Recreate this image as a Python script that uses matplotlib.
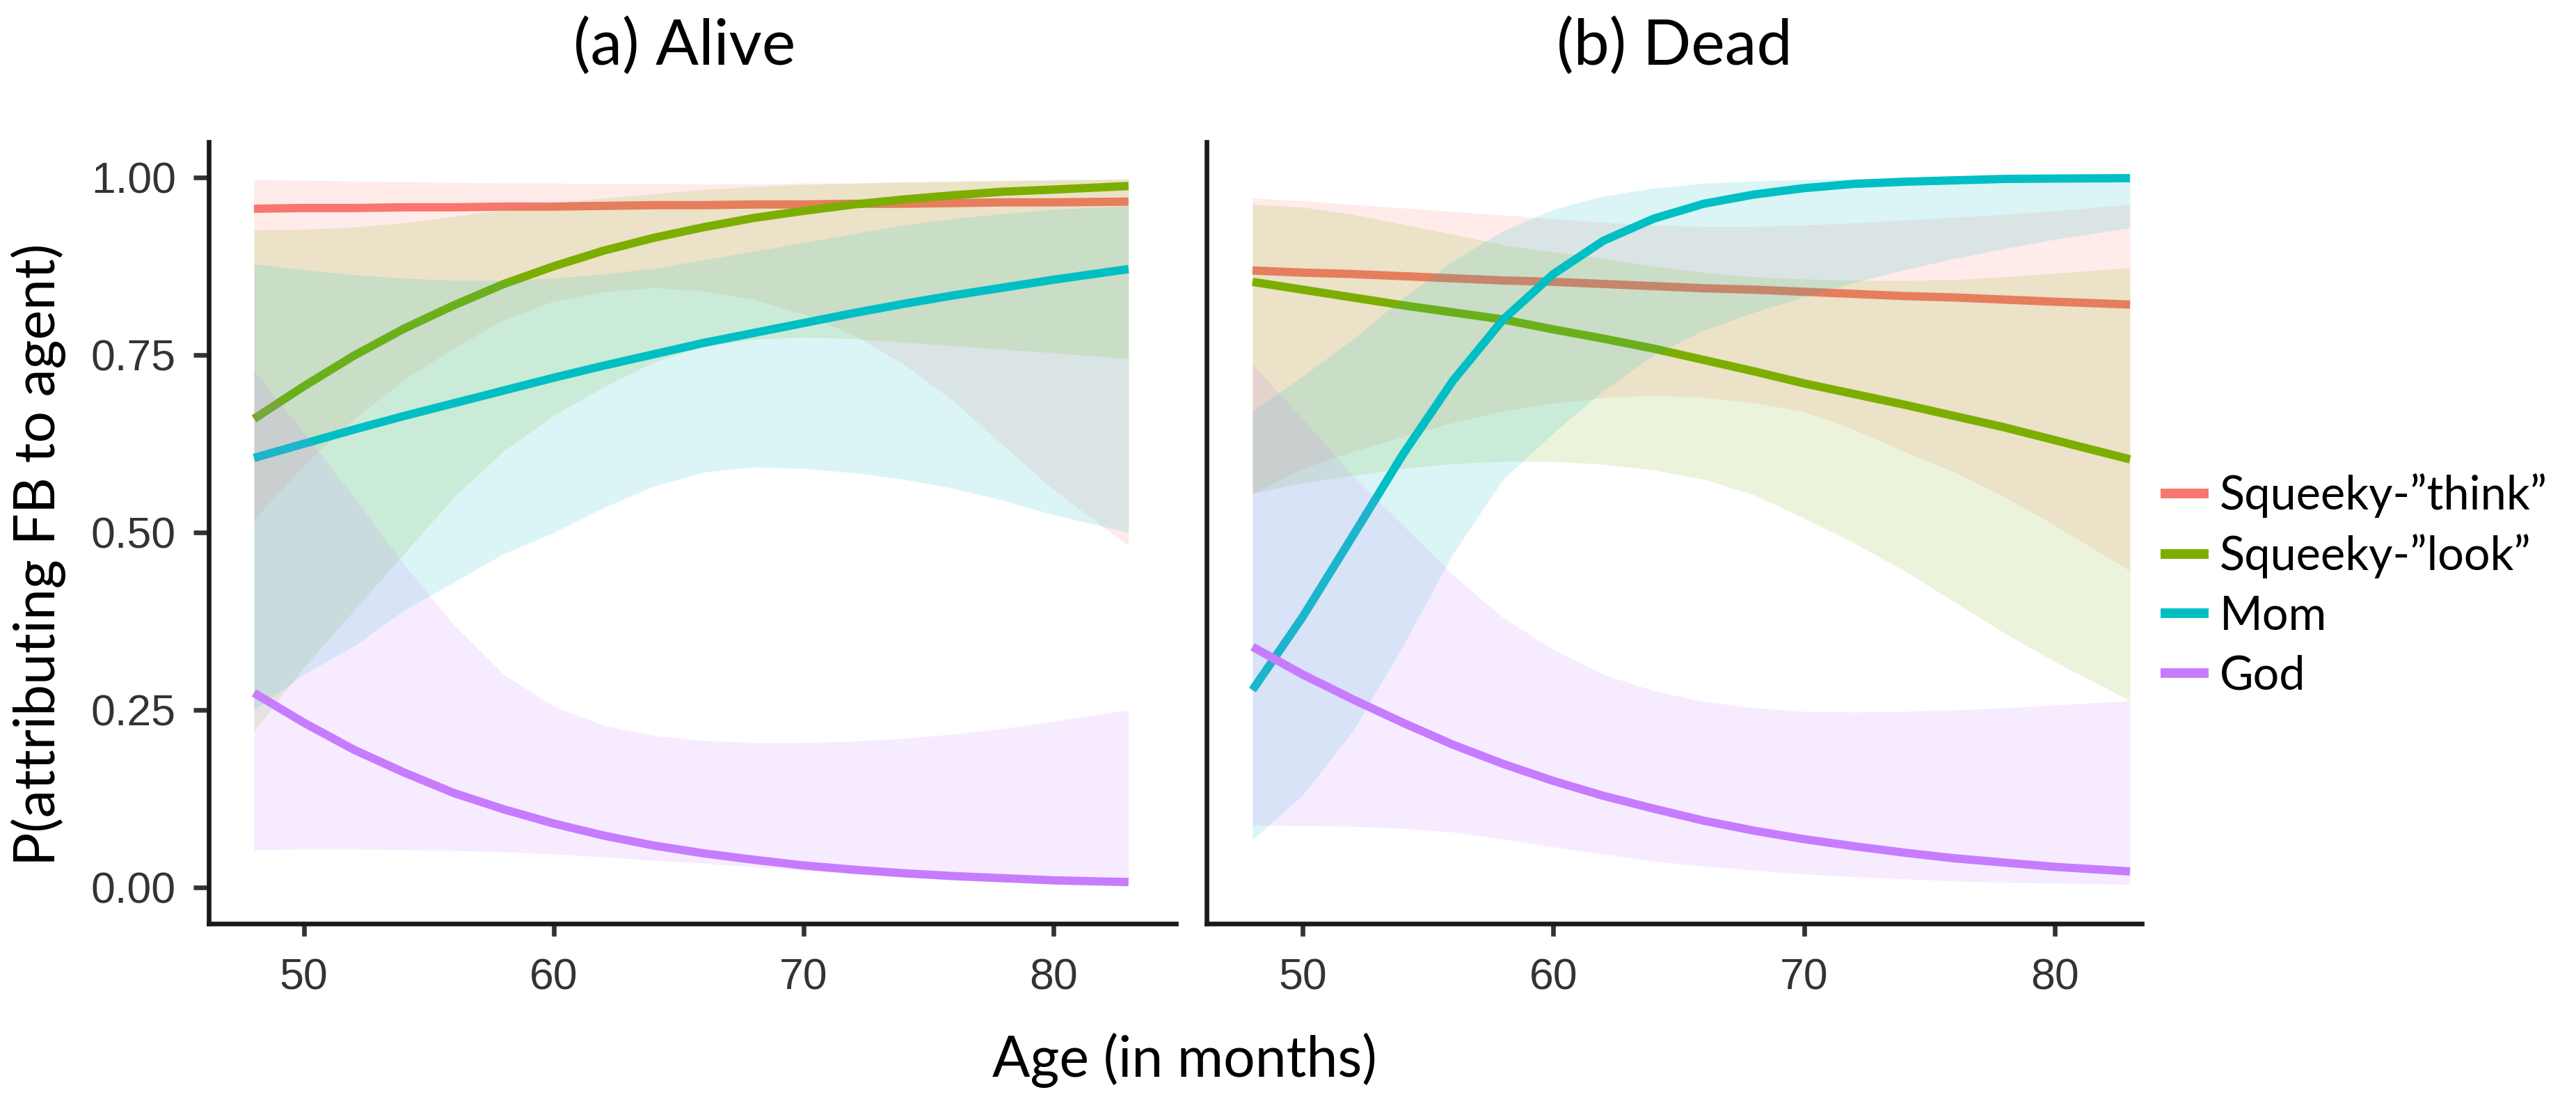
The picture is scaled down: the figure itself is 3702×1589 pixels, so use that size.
import matplotlib
matplotlib.use("Agg")
import matplotlib.pyplot as plt

age = [48, 50, 52, 54, 56, 58, 60, 62, 64, 66, 68, 70, 72, 74, 76, 78, 80, 83]

agents = ['Squeeky-\u201dthink\u201d', 'Squeeky-\u201dlook\u201d', 'Mom', 'God']
colors = ['#F8766D', '#7CAE00', '#00BFC4', '#C77CFF']

# (a) Alive
alive_think = [0.956, 0.957, 0.957, 0.958, 0.958, 0.959, 0.959, 0.960, 0.961, 0.961,
	0.962, 0.962, 0.963, 0.963, 0.964, 0.965, 0.965, 0.966]
alive_think_lo = [0.518, 0.595, 0.660, 0.715, 0.760, 0.800, 0.826, 0.839, 0.845, 0.840,
	0.828, 0.808, 0.778, 0.737, 0.685, 0.622, 0.560, 0.481]
alive_think_hi = [0.997, 0.996, 0.995, 0.994, 0.993, 0.992, 0.992, 0.991, 0.991, 0.991,
	0.991, 0.992, 0.992, 0.993, 0.994, 0.995, 0.996, 0.997]

alive_look = [0.660, 0.706, 0.749, 0.787, 0.820, 0.850, 0.875, 0.897, 0.915, 0.930,
	0.943, 0.953, 0.962, 0.969, 0.975, 0.980, 0.983, 0.988]
alive_look_lo = [0.220, 0.310, 0.390, 0.470, 0.550, 0.615, 0.665, 0.705, 0.740, 0.762,
	0.772, 0.775, 0.773, 0.768, 0.763, 0.758, 0.753, 0.745]
alive_look_hi = [0.926, 0.927, 0.930, 0.936, 0.945, 0.955, 0.964, 0.971, 0.977, 0.983,
	0.987, 0.990, 0.992, 0.994, 0.995, 0.996, 0.997, 0.998]

alive_mom = [0.605, 0.625, 0.645, 0.664, 0.682, 0.700, 0.718, 0.735, 0.751, 0.767,
	0.781, 0.795, 0.809, 0.822, 0.834, 0.845, 0.856, 0.871]
alive_mom_lo = [0.250, 0.300, 0.340, 0.390, 0.430, 0.470, 0.500, 0.535, 0.565, 0.585,
	0.592, 0.590, 0.584, 0.575, 0.562, 0.545, 0.525, 0.500]
alive_mom_hi = [0.878, 0.870, 0.863, 0.858, 0.855, 0.855, 0.858, 0.864, 0.872, 0.884,
	0.896, 0.908, 0.921, 0.933, 0.942, 0.949, 0.955, 0.960]

alive_god = [0.274, 0.232, 0.194, 0.162, 0.133, 0.110, 0.090, 0.073, 0.059, 0.048,
	0.039, 0.031, 0.025, 0.020, 0.016, 0.013, 0.010, 0.0075]
alive_god_lo = [0.053, 0.054, 0.054, 0.053, 0.052, 0.050, 0.047, 0.043, 0.038, 0.034,
	0.029, 0.024, 0.019, 0.015, 0.012, 0.009, 0.006, 0.004]
alive_god_hi = [0.728, 0.640, 0.550, 0.455, 0.370, 0.300, 0.255, 0.228, 0.214, 0.207,
	0.204, 0.204, 0.206, 0.210, 0.216, 0.224, 0.234, 0.250]

# (b) Dead
dead_think = [0.869, 0.866, 0.864, 0.861, 0.858, 0.855, 0.853, 0.850, 0.847, 0.844,
	0.842, 0.839, 0.836, 0.833, 0.831, 0.828, 0.825, 0.821]
dead_think_lo = [0.555, 0.590, 0.614, 0.635, 0.655, 0.671, 0.682, 0.690, 0.693, 0.690,
	0.683, 0.670, 0.645, 0.614, 0.585, 0.550, 0.510, 0.446]
dead_think_hi = [0.971, 0.967, 0.962, 0.957, 0.952, 0.947, 0.942, 0.937, 0.933, 0.931,
	0.931, 0.933, 0.936, 0.940, 0.944, 0.948, 0.953, 0.962]

dead_look = [0.853, 0.842, 0.831, 0.820, 0.810, 0.800, 0.786, 0.773, 0.759, 0.743,
	0.727, 0.710, 0.695, 0.680, 0.664, 0.648, 0.630, 0.603]
dead_look_lo = [0.555, 0.570, 0.580, 0.590, 0.597, 0.600, 0.600, 0.596, 0.588, 0.575,
	0.553, 0.520, 0.485, 0.446, 0.402, 0.358, 0.318, 0.263]
dead_look_hi = [0.962, 0.958, 0.948, 0.934, 0.920, 0.905, 0.895, 0.886, 0.875, 0.866,
	0.860, 0.857, 0.855, 0.855, 0.856, 0.860, 0.865, 0.873]

dead_mom = [0.278, 0.381, 0.495, 0.610, 0.714, 0.800, 0.864, 0.911, 0.942, 0.963,
	0.976, 0.985, 0.991, 0.994, 0.996, 0.998, 0.9985, 0.999]
dead_mom_lo = [0.067, 0.130, 0.220, 0.340, 0.470, 0.575, 0.640, 0.700, 0.750, 0.785,
	0.810, 0.832, 0.852, 0.870, 0.886, 0.900, 0.913, 0.929]
dead_mom_hi = [0.671, 0.720, 0.772, 0.830, 0.882, 0.925, 0.955, 0.974, 0.985, 0.992,
	0.995, 0.997, 0.998, 0.999, 0.9993, 0.9996, 0.9998, 1.000]

dead_god = [0.339, 0.300, 0.265, 0.232, 0.201, 0.174, 0.150, 0.129, 0.111, 0.094,
	0.080, 0.068, 0.058, 0.049, 0.041, 0.035, 0.029, 0.0225]
dead_god_lo = [0.088, 0.087, 0.086, 0.083, 0.078, 0.068, 0.057, 0.047, 0.037, 0.030,
	0.024, 0.019, 0.015, 0.012, 0.009, 0.007, 0.006, 0.004]
dead_god_hi = [0.737, 0.660, 0.580, 0.510, 0.440, 0.380, 0.335, 0.300, 0.277, 0.262,
	0.253, 0.248, 0.247, 0.248, 0.250, 0.253, 0.257, 0.263]

yticks = [0.00, 0.25, 0.50, 0.75, 1.00]
ytick_labels = ['0.00', '0.25', '0.50', '0.75', '1.00']
xticks = [50, 60, 70, 80]


def draw_panel(ax, fits, los, his):
	# one smooth per agent: ribbon then line, agent after agent (ggplot order)
	for i in range(len(agents)):
		ax.fill_between(age, los[i], his[i], color=colors[i], alpha=0.14,
			linewidth=0, zorder=2 * i + 1)
		ax.plot(age, fits[i], color=colors[i], linewidth=8.6, solid_capstyle='butt',
			solid_joinstyle='round', zorder=2 * i + 2, label=agents[i])
	for s in ['top', 'right']:
		ax.spines[s].set_visible(False)
	for s in ['left', 'bottom']:
		ax.spines[s].set_linewidth(4.8)
		ax.spines[s].set_color('#1a1a1a')
	ax.set_ylim(-0.051, 1.05)
	ax.set_xticks(xticks)
	ax.tick_params(axis='x', length=13, width=4.8, color='#333333', pad=22,
		labelsize=45, labelcolor='#333333')
	for lab in ax.get_xticklabels():
		lab.set_family('Liberation Sans')


def main():
	plt.rcParams['font.family'] = ['Lato', 'DejaVu Sans']

	fig = plt.figure(figsize=(37.02, 15.89), dpi=100)
	ax1 = fig.add_axes([300 / 3702, 1 - 1327 / 1589, 1390 / 3702, 1123 / 1589])
	ax2 = fig.add_axes([1734 / 3702, 1 - 1327 / 1589, 1344 / 3702, 1123 / 1589])

	draw_panel(ax1,
		[alive_think, alive_look, alive_mom, alive_god],
		[alive_think_lo, alive_look_lo, alive_mom_lo, alive_god_lo],
		[alive_think_hi, alive_look_hi, alive_mom_hi, alive_god_hi])
	draw_panel(ax2,
		[dead_think, dead_look, dead_mom, dead_god],
		[dead_think_lo, dead_look_lo, dead_mom_lo, dead_god_lo],
		[dead_think_hi, dead_look_hi, dead_mom_hi, dead_god_hi])

	ax1.set_xlim(46.19, 84.9)
	ax2.set_xlim(46.17, 83.47)

	ax1.set_yticks(yticks)
	ax1.set_yticklabels(ytick_labels)
	ax1.tick_params(axis='y', length=16, width=4.8, color='#333333', pad=18,
		labelsize=45, labelcolor='#333333')
	for lab in ax1.get_yticklabels():
		lab.set_family('Liberation Sans')
	ax2.set_yticks([])

	fig.text(984 / 3702, 1 - 94 / 1589, '(a) Alive', fontsize=66, ha='center', va='baseline')
	fig.text(2406 / 3702, 1 - 94 / 1589, '(b) Dead', fontsize=66, ha='center', va='baseline')

	fig.text(55 / 3702, 1 - 797 / 1589, 'P(attributing FB to agent)', fontsize=58,
		rotation=90, ha='center', va='center')
	fig.text(1702 / 3702, 1 - 1523 / 1589, 'Age (in months)', fontsize=58,
		ha='center', va='center')

	handles, labels = ax2.get_legend_handles_labels()
	leg = fig.legend(handles, labels, loc='center left',
		bbox_to_anchor=(3105 / 3702, 1 - 841 / 1589), frameon=False,
		fontsize=48, handlelength=1.03, handletextpad=0.24, labelspacing=0.35,
		borderpad=0, borderaxespad=0)
	for line in leg.get_lines():
		line.set_linewidth(10)

	fig.savefig('out.png', dpi=100, facecolor='white')


if __name__ == "__main__":
	main()
